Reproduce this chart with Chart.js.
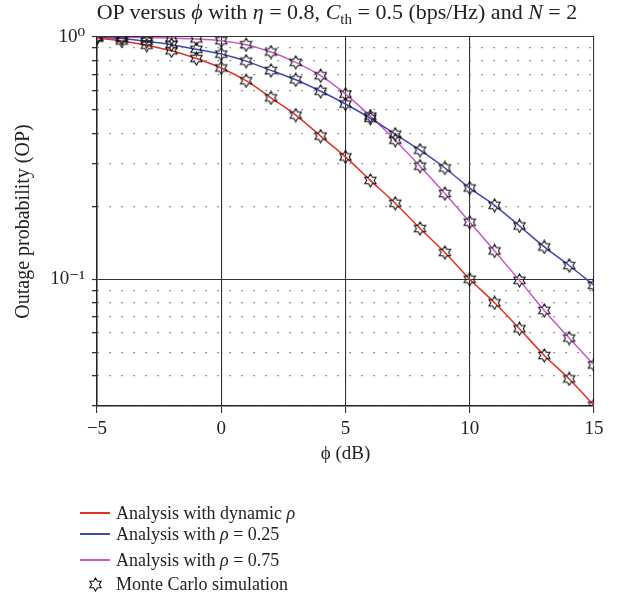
<!DOCTYPE html>
<html>
<head>
<meta charset="utf-8">
<script src="https://cdn.jsdelivr.net/npm/chart.js@4.4.1/dist/chart.umd.min.js"></script>
<style>
  body { margin: 0; background: #fff; }
  #wrap { position: relative; width: 621px; height: 601px; font-family: 'Liberation Serif', 'DejaVu Serif', serif; color: #222; }
  #op { position: absolute; left: 0; top: 0; }
  #title { position: absolute; left: 0; width: 674px; top: 0; text-align: center; font-size: 22px; line-height: 24px; white-space: nowrap; }
  #title sub { font-size: 15px; line-height: 0; }
  .lg { position: absolute; left: 80px; height: 20px; display: flex; align-items: center; font-size: 18px; white-space: nowrap; }
  .lg .ln { width: 30px; height: 2px; margin-right: 6px; }
  .lg canvas { margin: 0 13px 0 8px; }
</style>
</head>
<body>
<div id="wrap">
  <canvas id="op" width="621" height="601"></canvas>
  <div id="title">OP versus <i>ϕ</i> with <i>η</i> = 0.8, <i>C</i><sub>th</sub> = 0.5 (bps/Hz) and <i>N</i> = 2</div>
</div>
<script>
// ── data ───────────────────────────────────────────────────────────
const phiDb = [-5, -4, -3, -2, -1, 0, 1, 2, 3, 4, 5, 6, 7, 8, 9, 10, 11, 12, 13, 14, 15];
const opDynamic = [0.99, 0.963, 0.925, 0.877, 0.815, 0.745, 0.66, 0.561, 0.476, 0.39, 0.32, 0.256, 0.206, 0.162, 0.129, 0.1, 0.080, 0.0625, 0.0485, 0.0388, 0.0302];
const opRho25 = [0.995, 0.985, 0.96, 0.929, 0.89, 0.85, 0.795, 0.728, 0.666, 0.597, 0.529, 0.462, 0.397, 0.341, 0.288, 0.238, 0.202, 0.166, 0.136, 0.114, 0.0944];
const opRho75 = [1.0, 0.998, 0.995, 0.99, 0.982, 0.965, 0.929, 0.867, 0.786, 0.692, 0.581, 0.472, 0.375, 0.293, 0.226, 0.172, 0.131, 0.099, 0.0744, 0.0572, 0.0443];
const xTicks = [-5, 0, 5, 10, 15];
const yTicks = [0.03, 0.04, 0.05, 0.06, 0.07, 0.08, 0.09, 0.1, 0.2, 0.3, 0.4, 0.5, 0.6, 0.7, 0.8, 0.9, 1];
const yLabels = { 1: '10⁰', 0.1: '10⁻¹' };
const legendNames = ['Analysis with dynamic ρ', 'Analysis with ρ = 0.25', 'Analysis with ρ = 0.75', 'Monte Carlo simulation'];
const colors = ['#e3321f', '#4048b8', '#cc55c8'];

const FONT = "'Liberation Serif', 'DejaVu Serif', serif";

// hollow six-pointed star used as the simulation marker
function makeStar(size) {
    const c = document.createElement('canvas');
    c.width = size; c.height = size;
    const g = c.getContext('2d');
    const cx = size / 2, cy = size / 2, R = size / 2 - 1, r = R / Math.sqrt(3);
    g.beginPath();
    for (let i = 0; i < 12; i++) {
        const a = -Math.PI / 2 + i * Math.PI / 6;
        const rad = i % 2 === 0 ? R : r;
        const px = cx + rad * Math.cos(a), py = cy + rad * Math.sin(a);
        if (i === 0) g.moveTo(px, py); else g.lineTo(px, py);
    }
    g.closePath();
    g.lineWidth = 1.1;
    g.strokeStyle = '#111';
    g.stroke();
    return c;
}
const star = makeStar(15);

const toPts = arr => arr.map((v, i) => ({ x: phiDb[i], y: v }));
const series = [opDynamic, opRho25, opRho75];

const datasets = [];
series.forEach((s, k) => {
    datasets.push({
        label: legendNames[k],
        data: toPts(s),
        borderColor: colors[k],
        borderWidth: 1.5,
        pointRadius: 0,
        cubicInterpolationMode: 'monotone',
        fill: false,
        order: 2
    });
});
series.forEach((s, k) => {
    datasets.push({
        label: 'sim' + k,
        data: toPts(s),
        showLine: false,
        pointStyle: star,
        pointRadius: 7,
        order: 1
    });
});

const isMajorY = v => v === 1 || v === 0.1;

new Chart(document.getElementById('op'), {
    type: 'line',
    data: { datasets },
    options: {
        responsive: false,
        animation: false,
        layout: { padding: { left: 0, right: 27, top: 37, bottom: 131 } },
        plugins: { legend: { display: false }, tooltip: { enabled: false } },
        scales: {
            x: {
                type: 'linear',
                min: -5,
                max: 15,
                afterBuildTicks: sc => { sc.ticks = xTicks.map(v => ({ value: v })); },
                afterFit: sc => { sc.height = 64; },
                grid: { color: '#333', lineWidth: 1.1, tickLength: 7, tickColor: '#333' },
                border: { color: '#222', width: 1.5 },
                ticks: {
                    font: { family: FONT, size: 19 },
                    color: '#222',
                    padding: 5,
                    maxRotation: 0,
                    callback: v => (v < 0 ? '−' + Math.abs(v) : String(v))
                },
                title: { display: true, text: 'ϕ (dB)', font: { family: FONT, size: 19 }, color: '#222', padding: { top: 0, bottom: 5 } }
            },
            y: {
                type: 'logarithmic',
                min: 0.03,
                max: 1,
                afterBuildTicks: sc => { sc.ticks = yTicks.map(v => ({ value: v })); },
                afterFit: sc => { sc.width = 97; },
                grid: {
                    color: ctx => (ctx.tick && isMajorY(ctx.tick.value) ? '#333' : '#666'),
                    lineWidth: ctx => (ctx.tick && isMajorY(ctx.tick.value) ? 1.1 : 1.3),
                    tickLength: 5,
                    tickColor: '#333',
                    tickBorderDash: []
                },
                border: {
                    color: '#222',
                    width: 1.5,
                    dash: ctx => (ctx.tick && !isMajorY(ctx.tick.value) ? [1.3, 10.7] : [])
                },
                ticks: {
                    font: { family: FONT, size: 19 },
                    color: '#222',
                    padding: 7,
                    autoSkip: false,
                    callback: v => yLabels[v] || ''
                },
                title: { display: true, text: 'Outage probability (OP)', font: { family: FONT, size: 20 }, color: '#222', padding: { top: 12, bottom: 0 } }
            }
        }
    }
});

// ── legend under the plot ──────────────────────────────────────────
const rowsY = [513, 534, 560, 584];
const wrap = document.getElementById('wrap');
legendNames.forEach((name, k) => {
    const row = document.createElement('div');
    row.className = 'lg';
    row.style.top = (rowsY[k] - 10) + 'px';
    if (k < 3) {
        const ln = document.createElement('span');
        ln.className = 'ln';
        ln.style.background = colors[k];
        row.appendChild(ln);
    } else {
        row.appendChild(makeStar(15));
    }
    const t = document.createElement('span');
    t.innerHTML = name.replace('ρ', '<i>ρ</i>');
    row.appendChild(t);
    wrap.appendChild(row);
});
</script>
</body>
</html>
